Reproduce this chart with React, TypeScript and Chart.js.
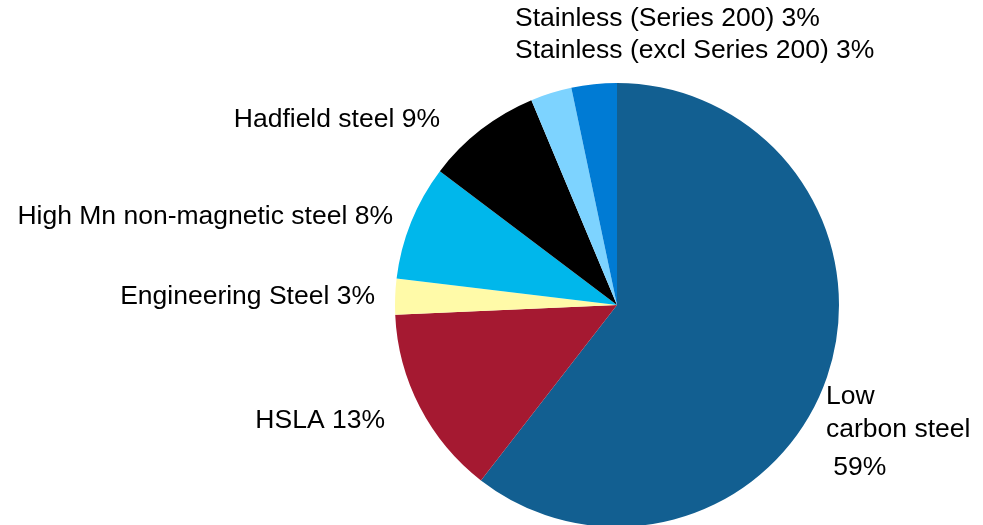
import React, { useEffect, useRef } from "react";
import { Chart, registerables } from "chart.js";

Chart.register(...registerables);

const categories = [
  "Low carbon steel",
  "HSLA",
  "Engineering Steel",
  "High Mn non-magnetic steel",
  "Hadfield steel",
  "Stainless (excl Series 200)",
  "Stainless (Series 200)",
];
const shares = [60.5, 13.8, 2.6, 8.4, 8.4, 3.0, 3.3];
const labelPercents = ["59%", "13%", "3%", "8%", "9%", "3%", "3%"];
const colors = ["#125f91", "#a51931", "#fffaa8", "#00b7eb", "#000000", "#7dd3ff", "#007bd4"];

// label layout: [lines, dx from centre, dy from centre, align]
const labelLayout: { lines: string[]; dx: number; dy: number[]; align: CanvasTextAlign }[] = [
  { lines: ["Low", "carbon steel", " " + labelPercents[0]], dx: 209, dy: [92, 125, 163], align: "left" },
  { lines: [categories[1] + " " + labelPercents[1]], dx: -232, dy: [116], align: "right" },
  { lines: [categories[2] + " " + labelPercents[2]], dx: -242, dy: [-8], align: "right" },
  { lines: [categories[3] + " " + labelPercents[3]], dx: -224, dy: [-88], align: "right" },
  { lines: [categories[4] + " " + labelPercents[4]], dx: -177, dy: [-185], align: "right" },
  { lines: [categories[5] + " " + labelPercents[5]], dx: -102, dy: [-254], align: "left" },
  { lines: [categories[6] + " " + labelPercents[6]], dx: -102, dy: [-286], align: "left" },
];

const labelPlugin = {
  id: "sliceLabels",
  afterDraw(chart: any) {
    const meta = chart.getDatasetMeta(0);
    const arc = meta.data[0];
    if (!arc) return;
    const cx = arc.x;
    const cy = arc.y;
    const ctx = chart.ctx;
    ctx.save();
    ctx.fillStyle = "#000";
    ctx.font = '26.5px "Liberation Sans", Arial, sans-serif';
    ctx.textBaseline = "middle";
    labelLayout.forEach((l) => {
      ctx.textAlign = l.align;
      l.lines.forEach((line, i) => {
        ctx.fillText(line, cx + l.dx, cy + l.dy[i]);
      });
    });
    ctx.restore();
  },
};

export default function App() {
  const ref = useRef<HTMLCanvasElement>(null);
  useEffect(() => {
    if (!ref.current) return;
    const chart = new Chart(ref.current, {
      type: "pie",
      data: {
        labels: categories,
        datasets: [
          {
            data: shares,
            backgroundColor: colors,
            borderWidth: 0,
          },
        ],
      },
      options: {
        animation: false,
        responsive: false,
        maintainAspectRatio: false,
        layout: { padding: { left: 395, right: 144, top: 83, bottom: 73 } },
        plugins: {
          legend: { display: false },
          tooltip: { enabled: false },
        },
      },
      plugins: [labelPlugin],
    });
    return () => chart.destroy();
  }, []);
  return (
    <div style={{ position: "fixed", left: 0, top: 0, width: 983, height: 525, overflow: "hidden", background: "#fff" }}>
      <canvas ref={ref} width={983} height={600} style={{ display: "block", width: 983, height: 600 }} />
    </div>
  );
}
